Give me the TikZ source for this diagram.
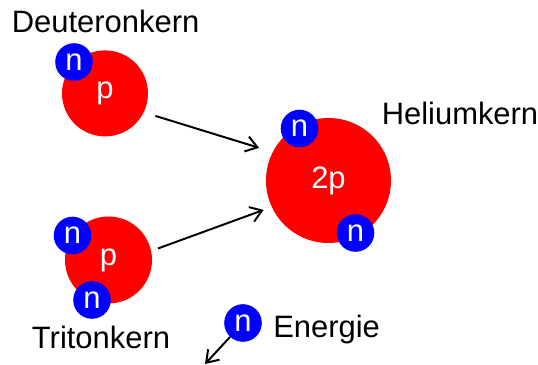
\documentclass[tikz,border=0pt]{standalone}
\usepackage{fontspec}
\setmainfont{Liberation Sans}
\usetikzlibrary{arrows.meta}

\begin{document}
\begin{tikzpicture}[
    proton/.style={circle, fill=red, inner sep=0pt, text=white, font=\fontsize{22}{26}\selectfont},
    neutron/.style={circle, fill=blue, inner sep=0pt, minimum size=0.94cm, text=white, font=\fontsize{22}{26}\selectfont},
    label/.style={font=\fontsize{22}{26}\selectfont, inner sep=0pt},
    arr/.style={line width=1.4pt, -{Straight Barb[length=8pt, width=11pt, line width=1.4pt]}}
]
    \useasboundingbox (0,0) rectangle (13.45,9.125);

    % --- Deuteronkern ---
    \node[proton, minimum size=2.15cm] (deut) at (2.625,6.79) {p};
    \node[neutron] (deutn) at (1.85,7.575) {n};
    \node[label, anchor=base] (deutlab) at (2.64,8.3) {Deuteronkern};

    % --- Tritonkern ---
    \node[proton, minimum size=2.175cm] (trit) at (2.7125,2.625) {p};
    \node[neutron] (tritna) at (1.8125,3.2375) {n};
    \node[neutron] (tritnb) at (2.3,1.625) {n};
    \node[label, anchor=base] (tritlab) at (2.525,0.4) {Tritonkern};

    % --- Heliumkern ---
    \node[proton, minimum size=3.125cm] (he) at (8.2125,4.6125) {2p};
    \node[neutron] (hena) at (7.4875,5.9125) {n};
    \node[neutron] (henb) at (8.8875,3.3) {n};
    \node[label, anchor=base] (helab) at (11.5,6.0) {Heliumkern};

    % --- freies Neutron ---
    \node[neutron] (nfree) at (6.075,1.05) {n};
    \node[label, anchor=base west] (elab) at (6.825,0.675) {Energie};
    \coordinate (away) at (5.125,0.025);

    \draw[arr, shorten <=8.5pt, shorten >=10pt] (deut.-26) -- (he.153);
    \draw[arr, shorten <=5pt, shorten >=6pt] (trit.12) -- (he.205);
    \draw[arr] (nfree) -- (away);
\end{tikzpicture}
\end{document}
